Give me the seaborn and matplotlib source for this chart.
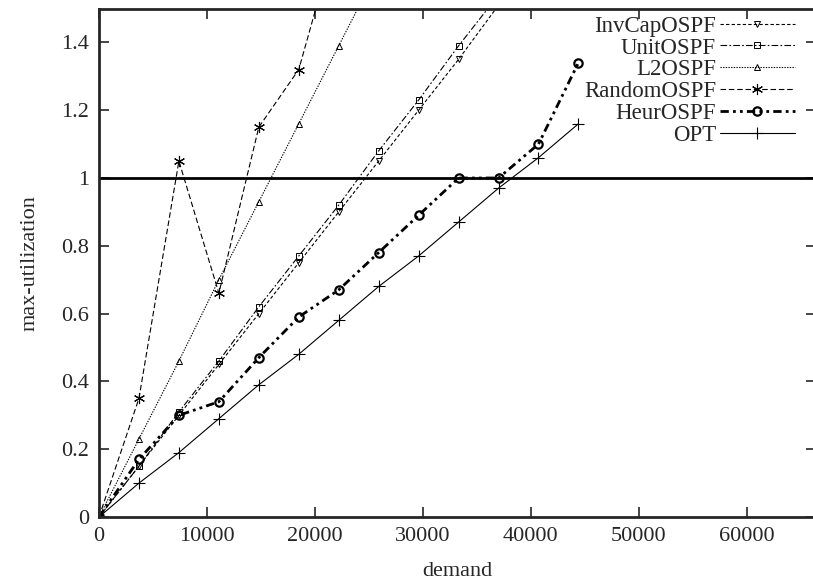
import numpy as np
import pandas as pd
import matplotlib
matplotlib.use('Agg')
import matplotlib.pyplot as plt
from matplotlib.ticker import FuncFormatter
import seaborn as sns

# ── Data ───────────────────────────────────────────────────────────────────────
demand = [0, 3700, 7400, 11100, 14800, 18500, 22200, 25900, 29600, 33300,
          37000, 40700, 44400]

invcap = [0, 0.15, 0.30, 0.45, 0.60, 0.75, 0.90, 1.05, 1.20, 1.35, 1.51]
unit = [0, 0.15, 0.31, 0.46, 0.62, 0.77, 0.92, 1.08, 1.23, 1.39, 1.54]
l2 = [0, 0.23, 0.46, 0.70, 0.93, 1.16, 1.39, 1.62]
random_ospf = [0, 0.35, 1.05, 0.66, 1.15, 1.32, 1.74]
heur = [0, 0.17, 0.30, 0.34, 0.47, 0.59, 0.67, 0.78, 0.89, 1.00, 1.00, 1.10, 1.34]
opt = [0, 0.10, 0.19, 0.29, 0.39, 0.48, 0.58, 0.68, 0.77, 0.87, 0.97, 1.06, 1.16]

series = {
    'InvCapOSPF': invcap,
    'UnitOSPF': unit,
    'L2OSPF': l2,
    'RandomOSPF': random_ospf,
    'HeurOSPF': heur,
    'OPT': opt,
}

# ── Style ──────────────────────────────────────────────────────────────────────
styles = {
    'InvCapOSPF': dict(marker='v', dashes=(3, 2), lw=0.8, ms=5, mew=0.7),
    'UnitOSPF': dict(marker='s', dashes=(6, 2, 1.5, 2), lw=0.8, ms=5, mew=0.7),
    'L2OSPF': dict(marker='^', dashes=(1.2, 1.2), lw=0.8, ms=5, mew=0.7),
    'RandomOSPF': dict(marker=(6, 2, 0), dashes=(5, 2.5), lw=0.8, ms=8, mew=0.8),
    'HeurOSPF': dict(marker='o', dashes=(3, 1.5, 1, 1.5, 1, 1.5), lw=2.0, ms=6, mew=1.6),
    'OPT': dict(marker='+', dashes=None, lw=0.8, ms=8, mew=0.8),
}

sns.set_style('ticks')
plt.rcParams['font.family'] = ['Liberation Serif', 'DejaVu Serif']

fig = plt.figure(figsize=(8.13, 5.81), dpi=100)
ax = fig.add_axes([99 / 813, 64 / 581, (816 - 99) / 813, (517 - 8.5) / 581])

for name, vals in series.items():
    st = styles[name]
    d = pd.DataFrame({'demand': demand[:len(vals)], 'util': vals})
    sns.lineplot(data=d, x='demand', y='util', ax=ax, color='black',
                 lw=st['lw'], marker=st['marker'], ms=st['ms'],
                 mew=st['mew'], mfc='none', mec='black', label=name)
    if st['dashes'] is not None:
        ax.get_lines()[-1].set_dashes(st['dashes'])

ax.axhline(1.0, color='black', lw=2.0)

ax.set_xlim(0, 66400)
ax.set_ylim(0, 1.5)
ax.set_xticks(np.arange(0, 60001, 10000))
ax.set_yticks(np.arange(0, 1.41, 0.2))
ax.yaxis.set_major_formatter(FuncFormatter(lambda v, p: f'{v:g}'))
ax.tick_params(direction='in', length=7, width=1.2, top=True, right=True,
               labelsize=16, pad=7)
for sp in ax.spines.values():
    sp.set_linewidth(2.0)
# the original is cropped on the right: no right frame line, only its ticks
ax.spines['right'].set_visible(False)
ax.set_xlabel('demand', fontsize=16, labelpad=12)
ax.set_ylabel('max-utilization', fontsize=16, labelpad=16)

handles, labels = ax.get_legend_handles_labels()
leg = ax.legend(handles, labels, loc='upper right', bbox_to_anchor=(0.995, 1.02),
                frameon=False, markerfirst=False, fontsize=16.5, handlelength=3.3,
                labelspacing=0.04, handletextpad=0.15, borderpad=0.25)
for h, name in zip(leg.legend_handles, labels):
    if styles[name]['dashes'] is not None:
        h.set_dashes(styles[name]['dashes'])

fig.savefig('out.png', dpi=100)
